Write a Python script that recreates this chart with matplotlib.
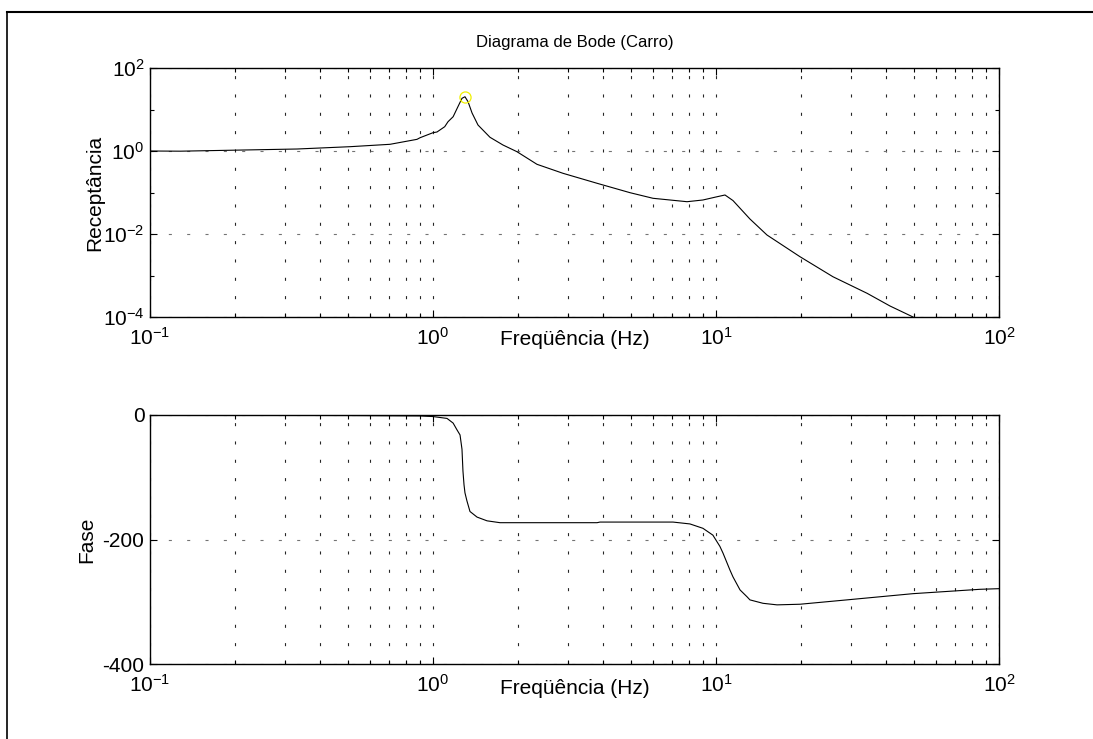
import matplotlib
matplotlib.use('Agg')
import matplotlib.pyplot as plt
from matplotlib.lines import Line2D
from matplotlib.ticker import NullFormatter

plt.rcParams['font.family'] = ['Liberation Sans', 'DejaVu Sans']
plt.rcParams['mathtext.fontset'] = 'custom'
plt.rcParams['mathtext.rm'] = 'Liberation Sans'
plt.rcParams['mathtext.it'] = 'Liberation Sans'
plt.rcParams['axes.unicode_minus'] = False
plt.rcParams['lines.scale_dashes'] = False

# magnitude (receptance)
freq_mag = [0.1, 0.128, 0.331, 0.509, 0.705, 0.878, 0.900, 1.0, 1.033, 1.10, 1.13,
            1.178, 1.225, 1.266, 1.297, 1.330, 1.374, 1.442, 1.590, 1.767, 1.98,
            2.33, 2.88, 3.80, 4.97, 5.99, 7.90, 8.99, 10.0, 10.76, 11.48, 13.18,
            15.14, 19.8, 25.9, 34.2, 41.2, 49.7]
mag = [1.0, 0.99, 1.117, 1.27, 1.45, 1.91, 2.09, 2.76, 2.87, 3.85, 5.08,
       6.7, 11.7, 18.6, 20.3, 15.4, 8.24, 4.23, 2.14, 1.395, 0.962,
       0.478, 0.290, 0.1667, 0.0989, 0.0725, 0.060, 0.066, 0.078, 0.0871, 0.064, 0.0230,
       0.00946, 0.00284, 0.000933, 0.000372, 0.000184, 0.0001]

# phase (degrees)
freq_phase = [0.1, 0.5, 0.9, 1.0, 1.121, 1.178, 1.216, 1.246, 1.266, 1.276, 1.287,
              1.297, 1.318, 1.351, 1.431, 1.552, 1.725, 3.80, 3.89, 7.05, 8.09,
              8.99, 9.75, 10.32, 10.59, 11.2, 11.48, 12.16, 12.87, 13.18, 14.66,
              16.43, 19.8, 29.0, 49.7, 85.7, 100]
phase = [-0.3, -0.8, -1.5, -2.5, -5.5, -13, -24, -32, -55, -90, -112,
         -125, -138, -155, -164, -170, -173, -173, -172, -172, -175,
         -182, -193, -211, -222, -249, -260, -281, -292, -297, -302.5,
         -305, -304, -297, -287, -280, -279]

peak_freq = 1.297
peak_mag = 20.3

fig = plt.figure(figsize=(10.93, 7.39), dpi=100)
fs = 15

ax1 = fig.add_axes([150/1093, 1-317/739, 849/1093, 249/739])
ax2 = fig.add_axes([150/1093, 1-664/739, 849/1093, 249/739])

def style(ax):
    ax.set_xscale('log')
    ax.set_xlim(0.1, 100)
    ax.set_xticks([0.1, 1, 10, 100])
    ax.set_xticklabels([r'$10^{-1}$', r'$10^{0}$', r'$10^{1}$', r'$10^{2}$'])
    ax.xaxis.set_minor_formatter(NullFormatter())
    ax.tick_params(which='both', direction='in', top=True, right=True,
                   labelsize=fs, width=0.8)
    ax.tick_params(which='major', length=5)
    ax.tick_params(which='minor', length=3)
    ax.tick_params(axis='x', pad=7)
    ax.tick_params(axis='y', pad=4)
    for s in ax.spines.values():
        s.set_linewidth(1.0)
    ax.grid(True, which='both', axis='x', color='0.15', linewidth=0.8,
            linestyle=(0, (2.2, 11)))
    ax.grid(True, which='major', axis='y', color='0.45', linewidth=0.8,
            linestyle=(0, (2.2, 11)))
    ax.set_xlabel('Freqüência (Hz)', fontsize=fs)

# magnitude
style(ax1)
ax1.set_yscale('log')
ax1.set_ylim(1e-4, 1e2)
ax1.set_yticks([1e-4, 1e-2, 1e0, 1e2])
ax1.set_yticklabels([r'$10^{-4}$', r'$10^{-2}$', r'$10^{0}$', r'$10^{2}$'])
ax1.set_yticks([1e-3, 1e-1, 1e1], minor=True)
ax1.yaxis.set_minor_formatter(NullFormatter())
ax1.plot(freq_mag, mag, color='black', linewidth=0.8)
ax1.plot([peak_freq], [peak_mag], marker='o', markersize=8, markerfacecolor='none',
         markeredgecolor='#f0f000', markeredgewidth=0.9, linestyle='none')
ax1.set_ylabel('Receptância', fontsize=fs, va='center')
ax1.yaxis.set_label_coords(-0.065, 0.5)
ax1.xaxis.set_label_coords(0.5, -0.09)
ax1.xaxis.label.set_va('center')
ax1.set_title('Diagrama de Bode (Carro)', fontsize=12, pad=15)

# phase
style(ax2)
ax2.set_ylim(-400, 0)
ax2.set_yticks([-400, -200, 0])
ax2.set_yticklabels(['-400', '-200', '0'])
ax2.plot(freq_phase, phase, color='black', linewidth=0.8)
ax2.set_ylabel('Fase', fontsize=fs, va='center')
ax2.yaxis.set_label_coords(-0.074, 0.5)
ax2.xaxis.set_label_coords(0.5, -0.097)
ax2.xaxis.label.set_va('center')

# outer frame (cut at right and bottom)
fig.add_artist(Line2D([7/1093, 1], [1-12/739, 1-12/739], transform=fig.transFigure,
                      color='black', linewidth=1.5))
fig.add_artist(Line2D([7/1093, 7/1093], [0, 1-12/739], transform=fig.transFigure,
                      color='black', linewidth=1.2))

fig.savefig('out.png', dpi=100)
